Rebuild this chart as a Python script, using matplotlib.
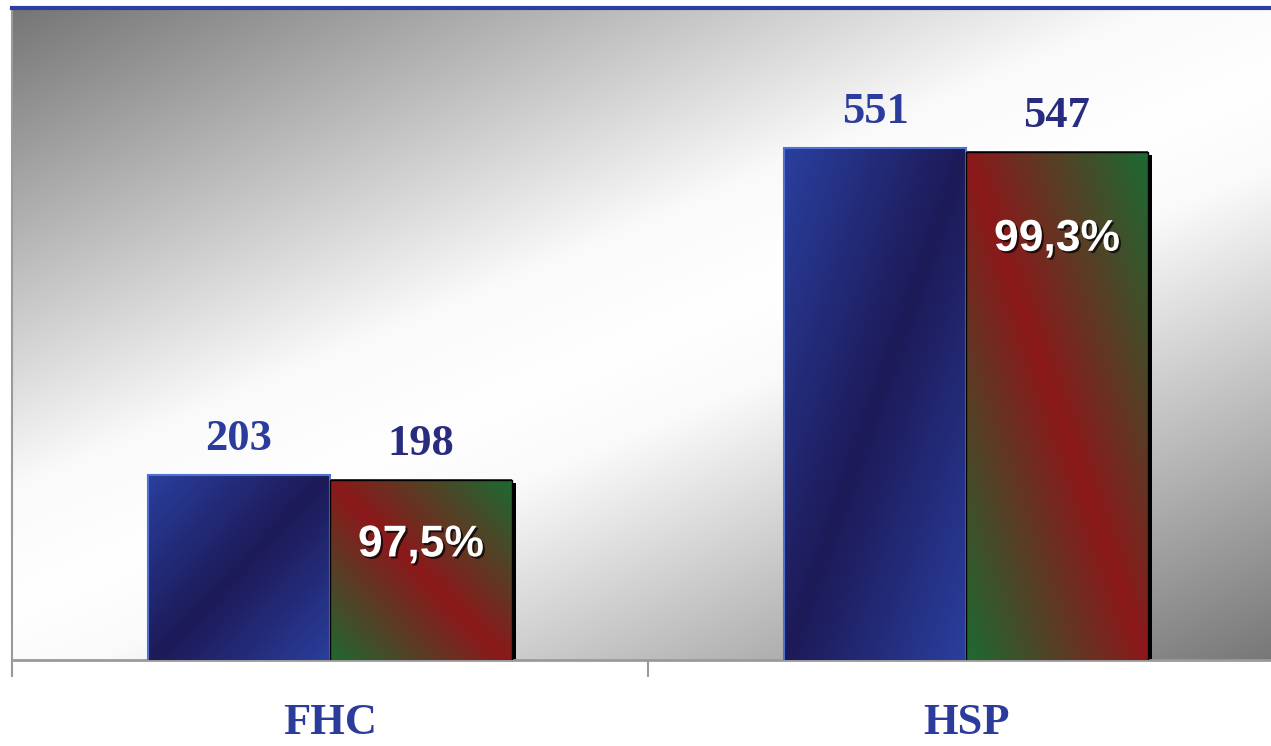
import numpy as np
import matplotlib
matplotlib.use("Agg")
from matplotlib import pyplot as plt
from matplotlib.colors import LinearSegmentedColormap
from matplotlib.transforms import offset_copy
import matplotlib.patheffects as pe

# data
categories = ["FHC", "HSP"]
total = [203, 551]
done = [198, 547]
pct_labels = ["97,5%", "99,3%"]

# style
pct_dy_pt = [-47, -63]  # label offset below the top of the red bar
W, H = 1271, 746
fig = plt.figure(figsize=(W / 100, H / 100), dpi=100)
ax = fig.add_axes([12 / W, 86 / H, 1272 / W, 652 / H])

# background: grey top-left -> white band -> grey bottom-right
px, py = np.meshgrid(np.linspace(0, 1272, 500), np.linspace(0, 652, 300))
s = 0.42 * px + py
g = np.interp(s, [0, 480, 600, 690, 1190], [0.46, 0.98, 1.0, 0.98, 0.46])
bg = np.dstack([g, g, g])
ax.imshow(bg, extent=[0, 1, 0, 1], transform=ax.transAxes, aspect="auto",
          zorder=0, interpolation="bilinear")

blue_cmap = LinearSegmentedColormap.from_list(
    "bl", ["#2a3f9e", "#1d1a58", "#2a3f9e"])
rg_cmap = LinearSegmentedColormap.from_list(
    "rg", ["#1c6a32", "#8c181a", "#1c6a32"])

bw = 0.286
x = np.arange(len(categories))

shadow_tr = offset_copy(ax.transData, fig=fig, x=4, y=-3, units="dots")
ax.bar(x + bw / 2, done, bw, color="black", transform=shadow_tr, zorder=2)

b1 = ax.bar(x - bw / 2, total, bw, color="none", edgecolor="#4f72d2",
            linewidth=1.5, zorder=4)
b2 = ax.bar(x + bw / 2, done, bw, color="none", edgecolor="black",
            linewidth=1, zorder=4)

uu, vv = np.meshgrid(np.linspace(0, 1, 200), np.linspace(0, 1, 200))
for bars, cmap, grad in [(b1, blue_cmap, (uu + (1 - vv)) / 2),
                         (b2, rg_cmap, (uu - (1 - vv) + 1) / 2)]:
    for r in bars:
        x0, w, h = r.get_x(), r.get_width(), r.get_height()
        ax.imshow(grad, cmap=cmap, vmin=0, vmax=1, origin="lower",
                  extent=[x0, x0 + w, 0, h], aspect="auto", zorder=3,
                  interpolation="bilinear")

ax.set_xlim(-0.5, 1.5)
ax.set_ylim(6, 700)

for i in range(len(categories)):
    ax.annotate(str(total[i]), (x[i] - bw / 2, total[i]), xytext=(0, 26),
                textcoords="offset points", ha="center", va="center",
                fontsize=32, fontweight="bold", family="Liberation Serif",
                color="#2b3c9c", zorder=6)
    ax.annotate(str(done[i]), (x[i] + bw / 2, done[i]), xytext=(0, 26),
                textcoords="offset points", ha="center", va="center",
                fontsize=32, fontweight="bold", family="Liberation Serif",
                color="#292b7e", zorder=6)
    ax.annotate(pct_labels[i], (x[i] + bw / 2, done[i]),
                xytext=(0, pct_dy_pt[i]), textcoords="offset points",
                ha="center", va="center", fontsize=32, fontweight="bold",
                family="Liberation Sans", color="white", zorder=6,
                path_effects=[pe.SimplePatchShadow(offset=(1.5, -1.5),
                                                   shadow_rgbFace="black",
                                                   alpha=0.7),
                              pe.Normal()])

# axes
ax.set_xticks([-0.5, 0.5, 1.5])
ax.set_xticklabels([])
ax.set_xticks(x, minor=True)
ax.set_xticklabels(categories, minor=True, fontsize=32, fontweight="bold",
                   family="Liberation Serif", color="#2b3c9c")
ax.tick_params(axis="x", which="major", length=12, width=1.5,
               color="#9a9a9a", direction="out")
ax.tick_params(axis="x", which="minor", length=0, pad=31)
ax.set_yticks([])
ax.spines["right"].set_visible(False)
ax.spines["top"].set_color("#2b3fa0")
ax.spines["top"].set_linewidth(3)
ax.spines["left"].set_color("#9a9a9a")
ax.spines["left"].set_linewidth(1.5)
ax.spines["bottom"].set_color("#9a9a9a")
ax.spines["bottom"].set_linewidth(2)

fig.savefig("out.png", dpi=100)
